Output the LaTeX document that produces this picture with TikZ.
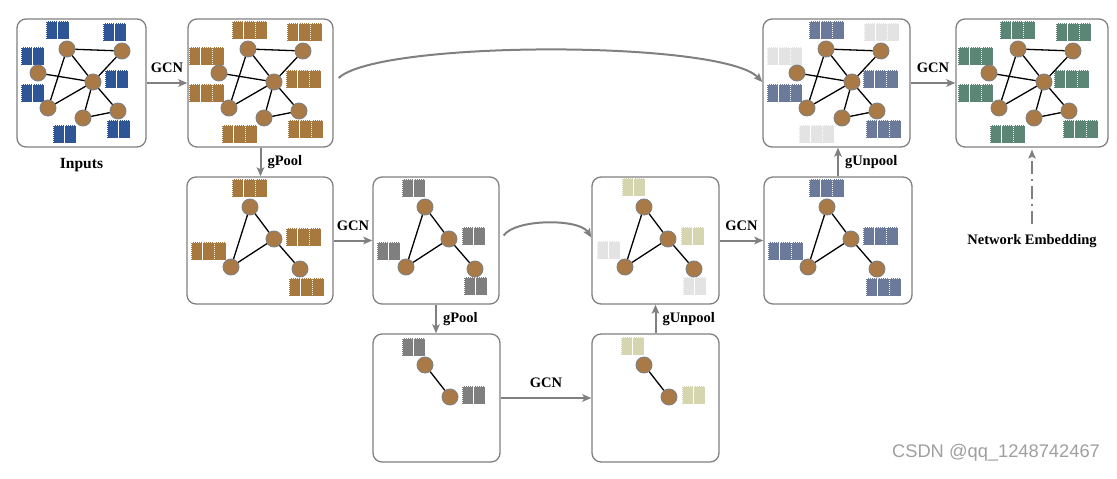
\documentclass[tikz,border=0pt]{standalone}
\usepackage{fontspec}
\setmainfont{Liberation Serif}
\newfontfamily\wmfont{Liberation Sans}
\usepackage{xcolor}
\usepackage{tikz}
\definecolor{framegray}{RGB}{128, 128, 128}
\definecolor{nodebrown}{RGB}{169, 122, 69}
\definecolor{featblue}{RGB}{46, 85, 149}
\definecolor{featbrown}{RGB}{168, 121, 63}
\definecolor{featgray}{RGB}{127, 127, 127}
\definecolor{featolive}{RGB}{213, 213, 176}
\definecolor{featlight}{RGB}{227, 227, 227}
\definecolor{featslate}{RGB}{107, 122, 154}
\definecolor{featgreen}{RGB}{91, 134, 118}
\usetikzlibrary{arrows.meta, positioning, calc}

% feature block: x, y, cells, colour
\newcommand{\feat}[4]{%
  \foreach \k in {1,...,#3}
    \draw[cell, fill=#4] ({#1+(\k-1)*11.7}, #2) rectangle ++(11.7, 18);
}
% graphs: prefix, x offset
\newcommand{\graphbig}[2]{%
  \node[vtx] (#1a) at (67+#2, 49) {};
  \node[vtx] (#1b) at (122+#2, 51) {};
  \node[vtx] (#1c) at (38+#2, 73) {};
  \node[vtx] (#1d) at (93+#2, 82) {};
  \node[vtx] (#1e) at (48+#2, 108) {};
  \node[vtx] (#1f) at (83+#2, 118) {};
  \node[vtx] (#1g) at (118+#2, 111) {};
  \draw[link] (#1a) -- (#1b) (#1a) -- (#1d) (#1a) -- (#1e) (#1c) -- (#1d) (#1b) -- (#1d)
              (#1d) -- (#1e) (#1d) -- (#1f) (#1d) -- (#1g) (#1f) -- (#1g);
}
\newcommand{\graphmid}[2]{%
  \node[vtx] (#1a) at (250+#2, 207) {};
  \node[vtx] (#1b) at (274+#2, 239) {};
  \node[vtx] (#1c) at (231+#2, 267) {};
  \node[vtx] (#1d) at (300+#2, 269) {};
  \draw[link] (#1a) -- (#1b) (#1a) -- (#1c) (#1b) -- (#1c) (#1b) -- (#1d);
}
\newcommand{\graphsmall}[2]{%
  \node[vtx] (#1a) at (425+#2, 365) {};
  \node[vtx] (#1b) at (450+#2, 397) {};
  \draw[link] (#1a) -- (#1b);
}

\begin{document}
\begin{tikzpicture}[
    x=1pt, y=-1pt,
    panel/.style={rectangle, draw=framegray, line width=1.3pt, rounded corners=9pt, fill=white, inner sep=0pt},
    vtx/.style={circle, fill=nodebrown, draw=framegray, line width=0.9pt, minimum size=16pt, inner sep=0pt},
    link/.style={black, line width=1.3pt},
    cell/.style={draw=white, line width=0.6pt, dash pattern=on 0.8pt off 1.2pt},
    arrow/.style={-{Stealth[length=9pt, width=7.5pt, inset=2pt]}, draw=framegray, line width=2pt},
    lbl/.style={font=\bfseries\fontsize{14.5}{17}\selectfont, inner sep=1pt}
]
    \useasboundingbox (0,0) rectangle (1117,479);

    % Panels
    \node[panel, minimum width=129pt, minimum height=128pt] (inp) at (81.5, 83) {};
    \node[panel, minimum width=145pt, minimum height=128pt] (h1) at (260.5, 83) {};
    \node[panel, minimum width=147pt, minimum height=128pt] (u2) at (836.5, 83) {};
    \node[panel, minimum width=152pt, minimum height=128pt] (emb) at (1032, 83) {};
    \node[panel, minimum width=146pt, minimum height=127pt] (p1) at (260, 240.5) {};
    \node[panel, minimum width=126pt, minimum height=127pt] (h2) at (436, 240.5) {};
    \node[panel, minimum width=127pt, minimum height=127pt] (u1) at (655.5, 240.5) {};
    \node[panel, minimum width=148pt, minimum height=127pt] (h4) at (838, 240.5) {};
    \node[panel, minimum width=127pt, minimum height=128pt] (p2) at (436.5, 398) {};
    \node[panel, minimum width=127pt, minimum height=128pt] (h3) at (655.5, 398) {};

    % Features
    \feat{46}{21}{2}{featblue} \feat{103}{23}{2}{featblue} \feat{21}{47}{2}{featblue}
    \feat{105}{70}{2}{featblue} \feat{21}{84}{2}{featblue} \feat{53}{125}{2}{featblue}
    \feat{107}{120}{2}{featblue}
    \feat{232}{21}{3}{featbrown} \feat{287}{23}{3}{featbrown} \feat{189}{47}{3}{featbrown}
    \feat{189}{84}{3}{featbrown} \feat{286}{70}{3}{featbrown} \feat{222}{125}{3}{featbrown}
    \feat{288}{120}{3}{featbrown}
    \feat{809}{21}{3}{featslate} \feat{864}{23}{3}{featlight} \feat{767}{47}{3}{featlight}
    \feat{767}{84}{3}{featslate} \feat{863}{70}{3}{featslate} \feat{799}{125}{3}{featlight}
    \feat{866}{120}{3}{featslate}
    \feat{1000}{21}{3}{featgreen} \feat{1056}{23}{3}{featgreen} \feat{958}{47}{3}{featgreen}
    \feat{958}{84}{3}{featgreen} \feat{1054}{70}{3}{featgreen} \feat{990}{125}{3}{featgreen}
    \feat{1063}{120}{3}{featgreen}
    \feat{232}{179}{3}{featbrown} \feat{286}{228}{3}{featbrown} \feat{191}{242}{3}{featbrown}
    \feat{289}{278}{3}{featbrown}
    \feat{402}{179}{2}{featgray} \feat{462}{227}{2}{featgray} \feat{377}{242}{2}{featgray}
    \feat{464}{277}{2}{featgray}
    \feat{622}{178}{2}{featolive} \feat{681}{227}{2}{featolive} \feat{597}{241}{2}{featlight}
    \feat{683}{277}{2}{featlight}
    \feat{809}{179}{3}{featslate} \feat{863}{227}{3}{featslate} \feat{768}{242}{3}{featslate}
    \feat{866}{278}{3}{featslate}
    \feat{402}{338}{2}{featgray} \feat{462}{386}{2}{featgray}
    \feat{621}{337}{2}{featolive} \feat{682}{386}{2}{featolive}

    % Graphs
    \graphbig{ga}{0}
    \graphbig{gb}{181}
    \graphbig{gc}{759}
    \graphbig{gd}{951}
    \graphmid{ge}{0}
    \graphmid{gf}{175}
    \graphmid{gg}{394}
    \graphmid{gh}{577}
    \graphsmall{gi}{0}
    \graphsmall{gj}{219}

    % Arrows
    \draw[arrow] (inp.east) -- node[lbl, above=8pt] {GCN} (h1.west);
    \draw[arrow] (h1.south) -- node[lbl, right=5pt] {gPool} (h1.south |- p1.north);
    \draw[arrow] (p1.east) -- node[lbl, above=8pt] {GCN} (h2.west);
    \draw[arrow] (h2.south) -- node[lbl, right=5pt] {gPool} (h2.south |- p2.north);
    \draw[arrow] (p2.east) -- node[lbl, above=8pt] {GCN} (h3.west);
    \draw[arrow] (h3.north) -- node[lbl, right=5pt] {gUnpool} (h3.north |- u1.south);
    \draw[arrow] (u1.east) -- node[lbl, above=8pt] {GCN} (h4.west);
    \draw[arrow] (h4.north) -- node[lbl, right=5pt] {gUnpool} (h4.north |- u2.south);
    \draw[arrow] (u2.east) -- node[lbl, above=8pt] {GCN} (emb.west);

    % Skip connections
    \draw[arrow] ([xshift=5pt, yshift=5pt]h1.east) .. controls +(40,-38) and +(-40,-42) .. ([yshift=1pt]u2.west);
    \draw[arrow] ([xshift=4pt, yshift=5pt]h2.east) .. controls +(12,-17) and +(-12,-19) .. ([yshift=3pt]u1.west);

    % Labels
    \node[lbl, font=\bfseries\fontsize{15.5}{18}\selectfont, below=9pt of inp] (inlbl) {Inputs};
    \node[lbl] (netemb) at (1032, 241) {Network Embedding};
    \draw[arrow, line width=1.5pt, dash pattern=on 13pt off 5pt on 2pt off 5pt, shorten <=9pt, shorten >=2pt] (netemb.north) -- (emb.south);
    \node[font=\wmfont\fontsize{18.3}{20}\selectfont, text=gray!75, inner sep=0pt] (csdn) at (996, 453) {CSDN @qq\_1248742467};
\end{tikzpicture}
\end{document}
